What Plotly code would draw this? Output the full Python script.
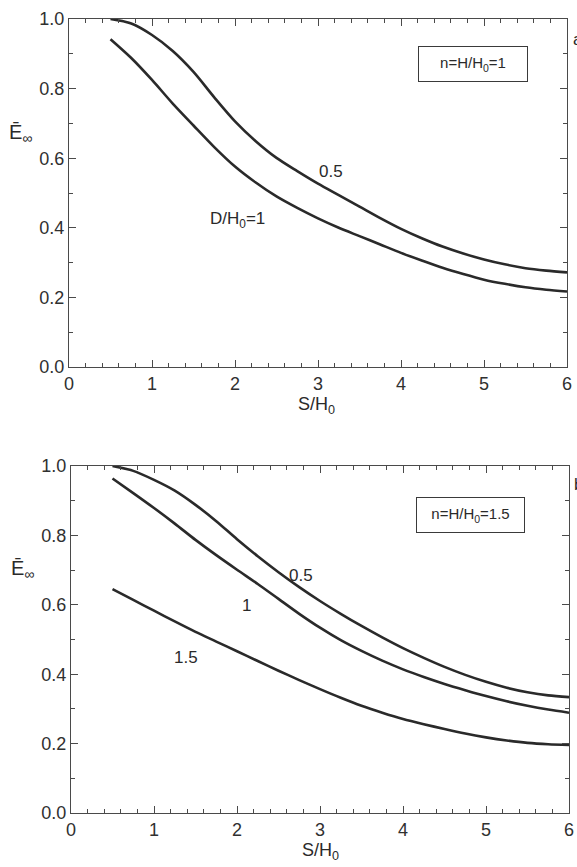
import plotly.graph_objects as go

W, H = 577, 867

# ---- data ----
s_grid = [0.5, 0.75, 1.0, 1.25, 1.5, 1.75, 2.0, 2.25, 2.5, 2.75, 3.0, 3.25,
          3.5, 3.75, 4.0, 4.25, 4.5, 4.75, 5.0, 5.25, 5.5, 5.75, 6.0]

# panel a : n = H/H0 = 1
a_d05 = [1.000, 0.987, 0.954, 0.908, 0.848, 0.775, 0.706, 0.649, 0.601, 0.563, 0.527, 0.494,
         0.461, 0.428, 0.397, 0.370, 0.346, 0.326, 0.309, 0.295, 0.284, 0.277, 0.272]
a_d10 = [0.942, 0.888, 0.825, 0.757, 0.694, 0.632, 0.576, 0.530, 0.490, 0.457, 0.427, 0.400,
         0.376, 0.352, 0.328, 0.306, 0.285, 0.267, 0.251, 0.239, 0.229, 0.222, 0.217]

# panel b : n = H/H0 = 1.5
b_d05 = [1.000, 0.986, 0.960, 0.929, 0.888, 0.841, 0.789, 0.740, 0.694, 0.651, 0.611, 0.574,
         0.539, 0.506, 0.475, 0.447, 0.421, 0.398, 0.378, 0.361, 0.348, 0.339, 0.334]
b_d10 = [0.964, 0.922, 0.879, 0.834, 0.787, 0.743, 0.701, 0.660, 0.617, 0.574, 0.534, 0.498,
         0.467, 0.439, 0.414, 0.392, 0.372, 0.354, 0.337, 0.322, 0.309, 0.298, 0.289]
b_d15 = [0.645, 0.614, 0.583, 0.552, 0.522, 0.494, 0.466, 0.438, 0.410, 0.383, 0.357, 0.332,
         0.309, 0.289, 0.271, 0.256, 0.242, 0.229, 0.218, 0.209, 0.202, 0.198, 0.196]

x_ticks = [0, 1, 2, 3, 4, 5, 6]
y_ticks = [0.0, 0.2, 0.4, 0.6, 0.8, 1.0]

# ---- helpers for pixel -> paper ----
def px(x):
    return x / W

def py(y):
    return 1 - y / H

LINE = "#2a2a2a"
AX = "#4a4a4a"
FONT = "Liberation Sans"

fig = go.Figure()

def add_curve(x, y, xa, ya):
    fig.add_trace(go.Scatter(x=x, y=y, mode="lines", xaxis=xa, yaxis=ya,
                             line=dict(color=LINE, width=2.6, shape="spline", smoothing=0.8),
                             showlegend=False, hoverinfo="skip"))

add_curve(s_grid, a_d05, "x", "y")
add_curve(s_grid, a_d10, "x", "y")
add_curve(s_grid, b_d05, "x2", "y2")
add_curve(s_grid, b_d10, "x2", "y2")
add_curve(s_grid, b_d15, "x2", "y2")

def xaxis(domain, anchor):
    return dict(domain=domain, anchor=anchor, range=[0, 6], tickvals=x_ticks,
                ticktext=[str(v) for v in x_ticks], automargin=False,
                showline=True, linecolor=AX, linewidth=1.2, mirror="allticks",
                ticks="inside", ticklen=7, tickwidth=1.1, tickcolor=AX,
                minor=dict(dtick=0.2, ticks="inside", ticklen=4, tickwidth=1, tickcolor=AX),
                showgrid=False, zeroline=False,
                tickfont=dict(family=FONT, size=18, color="#303030"))

def yaxis(domain, anchor):
    return dict(domain=domain, anchor=anchor, range=[0, 1], tickvals=y_ticks,
                ticktext=[f"{v:.1f}" for v in y_ticks], automargin=False,
                showline=True, linecolor=AX, linewidth=1.2, mirror="allticks",
                ticks="inside", ticklen=7, tickwidth=1.1, tickcolor=AX,
                minor=dict(dtick=0.1, ticks="inside", ticklen=4, tickwidth=1, tickcolor=AX),
                showgrid=False, zeroline=False,
                tickfont=dict(family=FONT, size=18, color="#303030"))

fig.update_layout(
    width=W, height=H,
    margin=dict(l=0, r=0, t=0, b=0, autoexpand=False),
    paper_bgcolor="white", plot_bgcolor="white",
    xaxis=xaxis([px(69), px(567)], "y"),
    yaxis=yaxis([py(367), py(19)], "x"),
    xaxis2=xaxis([px(71), px(569)], "y2"),
    yaxis2=yaxis([py(813), py(466)], "x2"),
)

anns = []

def txt(x, y, text, size=16, **kw):
    d = dict(x=px(x), y=py(y), xref="paper", yref="paper", text=text, showarrow=False,
             xanchor="center", yanchor="middle",
             font=dict(family=FONT, size=size, color="#2a2a2a"))
    d.update(kw)
    anns.append(d)

# axis titles
txt(316, 405, "S/H<sub>0</sub>", size=18)
txt(320, 851, "S/H<sub>0</sub>", size=18)
txt(20, 133, "Ē<sub>∞</sub>", size=20)
txt(22, 569, "Ē<sub>∞</sub>", size=20)

# curve labels panel a
txt(331, 171, "0.5", size=17)
txt(237, 220, "D/H<sub>0</sub>=1", size=17)
# curve labels panel b
txt(301, 575, "0.5", size=17)
txt(246, 605, "1", size=17)
txt(186, 657, "1.5", size=17)

# boxes
txt(473, 64, "n=H/H<sub>0</sub>=1", size=15, width=106, height=32,
    bordercolor="#3a3a3a", borderwidth=1, borderpad=1, bgcolor="white")
txt(470.5, 515, "n=H/H<sub>0</sub>=1.5", size=15, width=105, height=32,
    bordercolor="#3a3a3a", borderwidth=1, borderpad=1, bgcolor="white")

# panel letters at the right edge (cut off, as in the scan)
txt(571, 40, "a", size=17, xanchor="left")
txt(572, 484, "b", size=17, xanchor="left")

fig.update_layout(annotations=anns)

fig.write_html("out.html", config={"displayModeBar": False},
               post_script="document.body.style.margin='0';document.body.style.padding='0';"
                           "document.documentElement.style.overflow='hidden';")
